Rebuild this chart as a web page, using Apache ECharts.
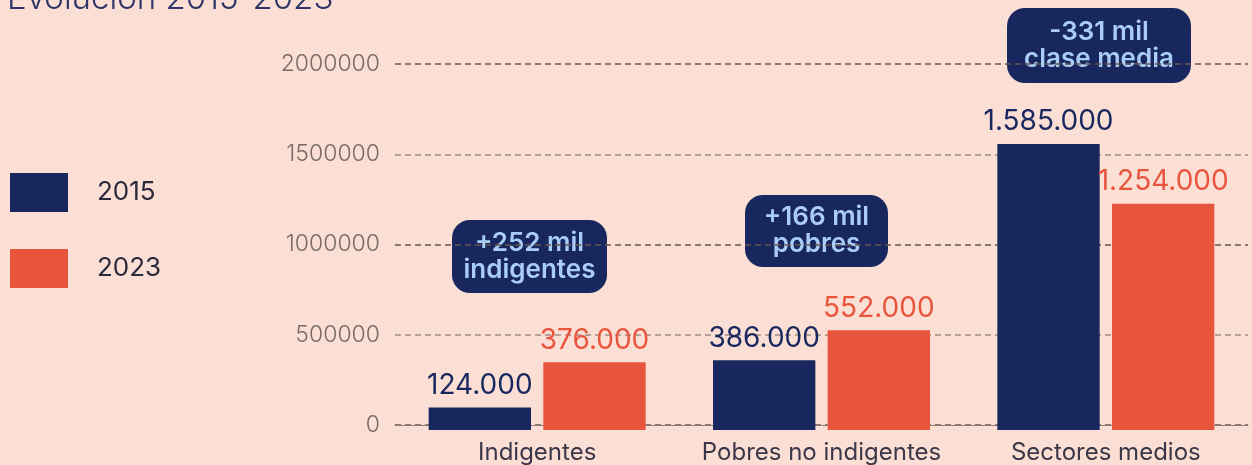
<!DOCTYPE html>
<html>
<head>
<meta charset="utf-8">
<script src="https://cdn.jsdelivr.net/npm/echarts@6/dist/echarts.min.js"></script>
<style>
  html, body { margin: 0; padding: 0; background: #fbdfd5; }
  #chart { width: 1252px; height: 465px; }
</style>
</head>
<body>
<div id="chart"></div>
<script>
const categories = ['Indigentes', 'Pobres no indigentes', 'Sectores medios']
const seriesNames = ['2015', '2023']
const values2015 = [124000, 386000, 1585000]
const values2023 = [376000, 552000, 1254000]
const yTicks = [0, 500000, 1000000, 1500000, 2000000]
const notes = [
  { text: '+252 mil\nindigentes', x: 452, y: 220, w: 155, h: 73 },
  { text: '+166 mil\npobres', x: 745, y: 195, w: 143, h: 72 },
  { text: '-331 mil\nclase media', x: 1007, y: 8, w: 184, h: 75 }
]

const NAVY = '#18275e'
const ORANGE = '#e8553c'
const FONT = 'Inter, "Noto Sans", sans-serif'

const fmt = v => String(v).replace(/\B(?=(\d{3})+(?!\d))/g, '.')

const chart = echarts.init(document.getElementById('chart'))

// two grids: one carries the axis/gridlines (0 at y=425), the bars sit 5px lower like the original
const gridBox = { left: 395, right: 4 }

chart.setOption({
  backgroundColor: '#fbdfd5',
  textStyle: { fontFamily: FONT },
  animation: false,
  title: {
    text: 'Evolución 2015-2023',
    left: 2,
    top: -22,
    textStyle: { color: '#2d3466', fontSize: 33, fontWeight: 300, fontFamily: FONT }
  },
  legend: {
    data: seriesNames,
    orient: 'vertical',
    left: 5,
    top: 168,
    itemWidth: 58,
    itemHeight: 39,
    itemGap: 37,
    icon: 'rect',
    textStyle: { color: '#2a2a3c', fontSize: 26, padding: [0, 0, 0, 24], fontFamily: FONT }
  },
  grid: [
    { ...gridBox, top: 64, bottom: 465 - 425 },
    { ...gridBox, top: 69, bottom: 465 - 430 }
  ],
  xAxis: [
    {
      gridIndex: 0,
      type: 'category',
      data: categories,
      axisLine: { lineStyle: { color: '#8c7b77', width: 1 } },
      axisTick: { show: false },
      axisLabel: { color: '#3a3848', fontSize: 24, margin: 16, interval: 0, fontFamily: FONT }
    },
    {
      gridIndex: 1,
      type: 'category',
      data: categories,
      show: false
    }
  ],
  yAxis: [
    {
      gridIndex: 0,
      type: 'value',
      min: yTicks[0],
      max: yTicks[yTicks.length - 1],
      interval: 500000,
      axisLine: { show: false },
      axisTick: { show: false },
      axisLabel: {
        color: '#7a6a66', fontSize: 23, fontWeight: 300, margin: 15, fontFamily: FONT,
        formatter: v => String(v)
      },
      splitLine: {
        lineStyle: { type: [6, 4], width: 1.5, color: ['#6a5651', '#a08d88'] }
      }
    },
    {
      gridIndex: 1,
      type: 'value',
      min: yTicks[0],
      max: yTicks[yTicks.length - 1],
      show: false
    }
  ],
  series: [
    {
      name: seriesNames[0],
      type: 'bar',
      xAxisIndex: 1,
      yAxisIndex: 1,
      data: values2015,
      barWidth: '36%',
      barGap: '12%',
      itemStyle: { color: NAVY },
      label: {
        show: true, position: 'top', distance: 8,
        color: NAVY, fontSize: 28, fontFamily: FONT,
        formatter: p => fmt(p.value)
      }
    },
    {
      name: seriesNames[1],
      type: 'bar',
      xAxisIndex: 1,
      yAxisIndex: 1,
      data: values2023,
      barWidth: '36%',
      barGap: '12%',
      itemStyle: { color: ORANGE },
      label: {
        show: true, position: 'top', distance: 8,
        color: ORANGE, fontSize: 28, fontFamily: FONT,
        formatter: p => fmt(p.value)
      }
    }
  ],
  graphic: notes.map(n => ({
    type: 'group',
    left: n.x,
    top: n.y,
    children: [
      {
        type: 'rect',
        shape: { x: 0, y: 0, width: n.w, height: n.h, r: 18 },
        style: { fill: NAVY }
      },
      {
        type: 'text',
        x: n.w / 2,
        y: n.h / 2,
        style: {
          text: n.text,
          fill: '#a9cdf6',
          font: '600 26px ' + FONT,
          lineHeight: 27,
          align: 'center',
          verticalAlign: 'middle'
        }
      }
    ]
  }))
})
</script>
</body>
</html>
